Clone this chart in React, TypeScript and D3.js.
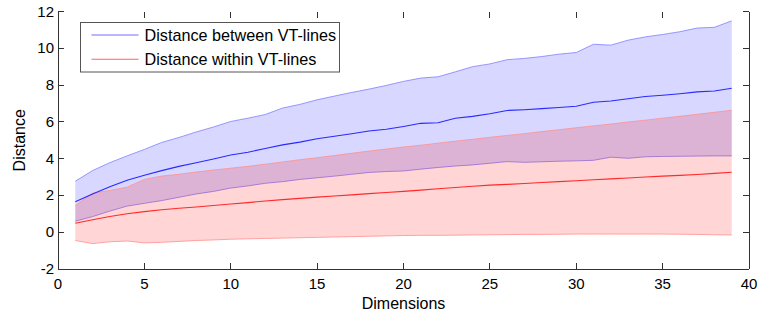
import React, { useRef, useEffect } from 'react';
import * as d3 from 'd3';

const dims = [1,2,3,4,5,6,7,8,9,10,11,12,13,14,15,16,17,18,19,20,21,22,23,24,25,26,27,28,29,30,31,32,33,34,35,36,37,38,39];

const betweenMean = [1.65,2.08,2.47,2.82,3.1,3.35,3.58,3.78,3.98,4.2,4.35,4.55,4.75,4.9,5.08,5.22,5.35,5.5,5.6,5.75,5.92,5.95,6.2,6.3,6.44,6.62,6.66,6.72,6.78,6.85,7.07,7.13,7.26,7.38,7.45,7.53,7.63,7.68,7.83];
const betweenUpper = [2.77,3.35,3.78,4.15,4.5,4.88,5.15,5.45,5.72,6.02,6.2,6.4,6.75,6.95,7.2,7.4,7.6,7.78,7.98,8.2,8.38,8.45,8.72,9.0,9.15,9.38,9.45,9.55,9.68,9.77,10.22,10.17,10.44,10.62,10.75,10.9,11.1,11.14,11.49];
const betweenLower = [0.6,0.85,1.15,1.42,1.57,1.72,1.9,2.08,2.22,2.4,2.52,2.66,2.75,2.87,2.96,3.05,3.15,3.25,3.3,3.33,3.43,3.52,3.6,3.66,3.75,3.84,3.8,3.83,3.86,3.88,3.91,4.08,4.02,4.1,4.12,4.13,4.14,4.15,4.15];

const withinMean = [0.49,0.68,0.85,1.0,1.12,1.22,1.3,1.37,1.45,1.53,1.61,1.7,1.77,1.84,1.91,1.97,2.03,2.1,2.16,2.22,2.29,2.36,2.43,2.5,2.56,2.6,2.65,2.7,2.75,2.8,2.85,2.9,2.95,3.0,3.05,3.09,3.14,3.2,3.26];
const withinUpper = [1.45,2.12,2.27,2.45,2.87,3.05,3.15,3.27,3.38,3.48,3.58,3.7,3.82,3.94,4.05,4.17,4.29,4.41,4.52,4.63,4.73,4.84,4.95,5.05,5.16,5.26,5.36,5.47,5.57,5.68,5.78,5.88,5.99,6.09,6.2,6.3,6.41,6.52,6.63];
const withinLower = [-0.45,-0.62,-0.52,-0.48,-0.58,-0.55,-0.5,-0.45,-0.42,-0.38,-0.36,-0.34,-0.32,-0.3,-0.28,-0.26,-0.24,-0.22,-0.2,-0.18,-0.17,-0.17,-0.16,-0.15,-0.14,-0.13,-0.12,-0.12,-0.11,-0.1,-0.1,-0.1,-0.1,-0.1,-0.1,-0.11,-0.12,-0.14,-0.15];

const xTicks = [0,5,10,15,20,25,30,35,40];
const yTicks = [-2,0,2,4,6,8,10,12];
const legendLabels = ['Distance between VT-lines', 'Distance within VT-lines'];

function App() {
  const svgRef = useRef(null);

  useEffect(() => {
    const svg = d3.select(svgRef.current);
    svg.selectAll("*").remove();

    const width = 758;
    const height = 320;
    const margin = { top: 11.5, right: 9, bottom: 51, left: 58 };
    const font = "'Liberation Sans', Arial, Helvetica, sans-serif";

    const x = d3.scaleLinear().domain([0, 40]).range([margin.left, width - margin.right]);
    const y = d3.scaleLinear().domain([-2, 12]).range([height - margin.bottom, margin.top]);

    const bands = [
      { mean: betweenMean, up: betweenUpper, lo: betweenLower, fill: "#0000ff", fillOp: 0.155, edge: "#8080ff", line: "#2a2aff" },
      { mean: withinMean, up: withinUpper, lo: withinLower, fill: "#ff0000", fillOp: 0.165, edge: "#ff9090", line: "#ff2a2a" },
    ];

    const area = (up, lo) => d3.area()
      .x((d, i) => x(dims[i]))
      .y0((d, i) => y(lo[i]))
      .y1((d, i) => y(up[i]))(dims);
    const line = (vals) => d3.line()
      .x((d, i) => x(dims[i]))
      .y((d, i) => y(vals[i]))(dims);

    bands.forEach(b => {
      svg.append("path").attr("d", area(b.up, b.lo)).attr("fill", b.fill).attr("fill-opacity", b.fillOp);
      svg.append("path").attr("d", line(b.up)).attr("fill", "none").attr("stroke", b.edge).attr("stroke-opacity", 0.8).attr("stroke-width", 1);
      svg.append("path").attr("d", line(b.lo)).attr("fill", "none").attr("stroke", b.edge).attr("stroke-opacity", 0.8).attr("stroke-width", 1);
    });
    bands.forEach(b => {
      svg.append("path").attr("d", line(b.mean)).attr("fill", "none").attr("stroke", b.line).attr("stroke-width", 1.1);
    });

    // axes box: left, bottom, right (no top line)
    const axisColor = "#333";
    const x0 = x(0), x1 = x(40), yb = y(-2), yt = y(12);
    const g = svg.append("g").attr("stroke", axisColor).attr("stroke-width", 1).attr("shape-rendering", "crispEdges");
    g.append("line").attr("x1", x0).attr("x2", x0).attr("y1", yt).attr("y2", yb);
    g.append("line").attr("x1", x0).attr("x2", x1).attr("y1", yb).attr("y2", yb);
    g.append("line").attr("x1", x1).attr("x2", x1).attr("y1", yt).attr("y2", yb);

    const tl = 6;
    xTicks.forEach(t => {
      g.append("line").attr("x1", x(t)).attr("x2", x(t)).attr("y1", yb).attr("y2", yb - tl);
      g.append("line").attr("x1", x(t)).attr("x2", x(t)).attr("y1", yt).attr("y2", yt + tl);
    });
    yTicks.forEach(t => {
      g.append("line").attr("x1", x0).attr("x2", x0 + tl).attr("y1", y(t)).attr("y2", y(t));
      g.append("line").attr("x1", x1).attr("x2", x1 - tl).attr("y1", y(t)).attr("y2", y(t));
    });

    svg.append("g").selectAll("text").data(xTicks).join("text")
      .attr("x", d => x(d)).attr("y", yb + 19.5)
      .attr("text-anchor", "middle").attr("font-family", font).attr("font-size", 15)
      .attr("fill", "#000").text(d => d);

    svg.append("g").selectAll("text").data(yTicks).join("text")
      .attr("x", x0 - 4).attr("y", d => y(d) + 5)
      .attr("text-anchor", "end").attr("font-family", font).attr("font-size", 15)
      .attr("fill", "#000").text(d => d);

    svg.append("text")
      .attr("x", (x0 + x1) / 2).attr("y", 309)
      .attr("text-anchor", "middle").attr("font-family", font).attr("font-size", 16)
      .text("Dimensions");

    svg.append("text")
      .attr("transform", `translate(25,${(yt + yb) / 2}) rotate(-90)`)
      .attr("text-anchor", "middle").attr("font-family", font).attr("font-size", 16)
      .text("Distance");

    // legend
    const lg = svg.append("g");
    lg.append("rect").attr("x", 80.5).attr("y", 22.5).attr("width", 259).attr("height", 49.5)
      .attr("fill", "#fff").attr("stroke", "#555").attr("stroke-width", 1);
    const legendColors = ["#7070ff", "#ff6060"];
    legendLabels.forEach((lab, i) => {
      const ly = 35 + i * 24.3;
      lg.append("line").attr("x1", 91.5).attr("x2", 138.5).attr("y1", ly).attr("y2", ly)
        .attr("stroke", legendColors[i]).attr("stroke-width", 1.1);
      lg.append("text").attr("x", 144.5).attr("y", ly + 5.5)
        .attr("font-family", font).attr("font-size", 16.2).attr("fill", "#000").text(lab);
    });
  }, []);

  return <svg ref={svgRef} width={758} height={320} style={{ position: 'absolute', left: 0, top: 0 }} />;
}

export default App;
